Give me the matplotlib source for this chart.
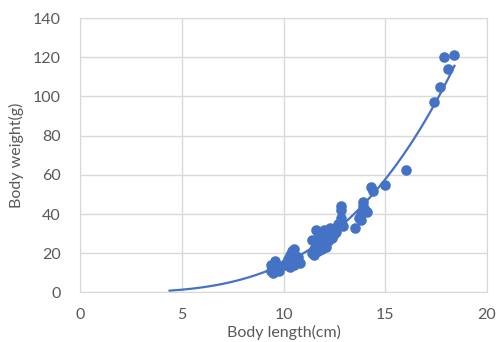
import numpy as np
import matplotlib.pyplot as plt

# body length (cm) and body weight (g)
length = [9.4, 9.5, 9.6, 9.7, 9.5, 9.6, 9.8, 9.4,
          10.1, 10.2, 10.3, 10.4, 10.5, 10.3, 10.6, 10.7, 10.8, 10.0, 10.5,
          11.4, 11.5, 11.4, 11.6, 11.6, 11.7, 11.8, 11.9, 12.0, 12.1, 12.2, 12.3,
          12.4, 12.5, 11.5, 11.7, 12.0, 12.6, 12.2, 11.9,
          12.8, 12.8, 12.8, 12.8, 12.9, 12.7,
          13.5, 13.7, 13.8, 13.9, 13.9, 14.0, 14.1, 13.8,
          14.3, 14.4, 15.0, 16.0, 17.4, 17.7, 18.1, 17.9, 18.4]
weight = [11, 13, 15, 12, 10, 16, 11, 14,
          15, 17, 19, 21, 22, 13, 16, 18, 15, 14, 14,
          20, 22, 27, 25, 32, 28, 24, 30, 27, 23, 31, 33,
          28, 30, 19, 21, 32, 31, 26, 22,
          44, 42, 38, 36, 34, 35,
          33, 38, 40, 44, 46, 42, 41, 37,
          54, 52, 55, 62.5, 97, 105, 114, 120, 121]

blue = '#4472C4'
grey = '#595959'
plt.rcParams['font.family'] = ['Lato', 'DejaVu Sans']

fig = plt.figure(figsize=(4.97, 3.42), dpi=100)
ax = fig.add_axes([0.161, 0.145, 0.819, 0.802])

ax.scatter(length, weight, s=58, color=blue, zorder=3, linewidths=0)

# power trendline, forecast backward 5 units
b, log_a = np.polyfit(np.log(length), np.log(weight), 1)
xs = np.linspace(min(length) - 5, max(length), 200)
ax.plot(xs, np.exp(log_a) * xs ** b, color=blue, lw=1.6, zorder=2)

ax.set_xlim(0, 20)
ax.set_ylim(0, 140)
ax.set_xticks(range(0, 21, 5))
ax.set_yticks(range(0, 141, 20))
ax.grid(True, color='#D9D9D9', lw=1)
ax.set_axisbelow(True)
for s in ax.spines.values():
    s.set_color('#D9D9D9')
ax.tick_params(length=0, labelsize=11.5, colors=grey)
ax.tick_params(axis='x', pad=11)
ax.tick_params(axis='y', pad=14)
ax.set_xlabel('Body length(cm)', fontsize=11.5, color=grey, labelpad=2)
ax.set_ylabel('Body weight(g)', fontsize=11.5, color=grey, labelpad=6)

fig.savefig('out.png', dpi=100)
